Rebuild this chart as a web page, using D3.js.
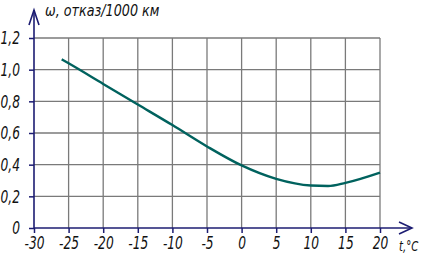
<!DOCTYPE html>
<html>
<head>
<meta charset="utf-8">
<script src="https://cdn.jsdelivr.net/npm/d3@7"></script>
<style>
  body { margin: 0; background: #fff; }
  text { font-family: "DejaVu Sans", sans-serif; font-style: italic; fill: #111; }
</style>
</head>
<body>
<svg id="chart"></svg>
<script>
// temperature, °C
const temps = [-26, -25, -20, -15, -10, -5, 0, 5, 10, 12.5, 15, 20];
// failure rate, failures per 1000 km
const rates = [1.065, 1.04, 0.91, 0.78, 0.65, 0.515, 0.395, 0.31, 0.268, 0.265, 0.285, 0.35];
const xTicks = [-30, -25, -20, -15, -10, -5, 0, 5, 10, 15, 20];
const yTicks = [0, 0.2, 0.4, 0.6, 0.8, 1.0, 1.2];

const width = 424, height = 260;
const margin = {top: 38, right: 44, bottom: 32, left: 34};
const axisColor = '#1c1c72', gridColor = '#7a7a7a', lineColor = '#00625e';

const svg = d3.select('#chart').attr('width', width).attr('height', height);

const x = d3.scaleLinear().domain([-30, 20]).range([margin.left, width - margin.right]);
const y = d3.scaleLinear().domain([0, 1.2]).range([height - margin.bottom, margin.top]);

const fmt = d => d === 0 ? '0' : d.toFixed(1).replace('.', ',');

// squeeze text horizontally to imitate the narrow drafting font
function narrow(sel, k) {
  sel.each(function() {
    const len = this.getComputedTextLength();
    d3.select(this).attr('textLength', len * k).attr('lengthAdjust', 'spacingAndGlyphs');
  });
}

// grid
svg.append('g').selectAll('line')
  .data(xTicks.slice(1))
  .join('line')
  .attr('x1', d => x(d)).attr('x2', d => x(d))
  .attr('y1', y(0)).attr('y2', y(1.2))
  .attr('stroke', gridColor).attr('stroke-width', 1.3);

svg.append('g').selectAll('line')
  .data(yTicks.slice(1))
  .join('line')
  .attr('x1', x(-30)).attr('x2', x(20))
  .attr('y1', d => y(d)).attr('y2', d => y(d))
  .attr('stroke', gridColor).attr('stroke-width', 1.3);

// axes
const xAxis = d3.axisBottom(x).tickValues(xTicks).tickSize(5).tickPadding(4)
  .tickFormat(d => String(d));
const xAxisG = svg.append('g')
  .attr('transform', `translate(0,${y(0)})`)
  .call(xAxis);

const yAxis = d3.axisLeft(y).tickValues(yTicks).tickSize(5).tickPadding(9).tickFormat(fmt);
const yAxisG = svg.append('g')
  .attr('transform', `translate(${x(-30)},0)`)
  .call(yAxis);

[xAxisG, yAxisG].forEach(g => {
  g.select('.domain').remove();
  g.selectAll('.tick line').attr('stroke', axisColor).attr('stroke-width', 1.5);
  g.selectAll('.tick text').attr('font-size', 17).attr('fill', '#111')
    .attr('font-family', null);
});
svg.selectAll('.tick text')
  .style('font-family', '"DejaVu Sans", sans-serif')
  .style('font-style', 'italic')
  .call(narrow, 0.72);
yAxisG.selectAll('.tick text').attr('dy', '0.35em');

// axis lines with arrows
svg.append('line')
  .attr('x1', x(-30)).attr('x2', x(-30))
  .attr('y1', y(0)).attr('y2', 10)
  .attr('stroke', axisColor).attr('stroke-width', 1.6);
svg.append('path')
  .attr('d', `M${x(-30) - 5},25 L${x(-30)},10 L${x(-30) + 5},25`)
  .attr('fill', 'none').attr('stroke', axisColor).attr('stroke-width', 1.6);

svg.append('line')
  .attr('x1', x(-30)).attr('x2', 412)
  .attr('y1', y(0)).attr('y2', y(0))
  .attr('stroke', axisColor).attr('stroke-width', 1.6);
svg.append('path')
  .attr('d', `M399,${y(0) - 6} L412,${y(0)} L399,${y(0) + 6}`)
  .attr('fill', 'none').attr('stroke', axisColor).attr('stroke-width', 1.6);

// axis titles
svg.append('text')
  .attr('x', 45).attr('y', 16)
  .attr('font-size', 15)
  .text('ω, отказ/1000 км')
  .call(narrow, 0.85);

svg.append('text')
  .attr('x', 399).attr('y', 251)
  .attr('font-size', 14)
  .text('t,°C')
  .call(narrow, 0.72);

// curve
const line = d3.line()
  .x((d, i) => x(temps[i]))
  .y(d => y(d))
  .curve(d3.curveMonotoneX);

svg.append('path')
  .datum(rates)
  .attr('d', line)
  .attr('fill', 'none')
  .attr('stroke', lineColor)
  .attr('stroke-width', 2.4);
</script>
</body>
</html>
